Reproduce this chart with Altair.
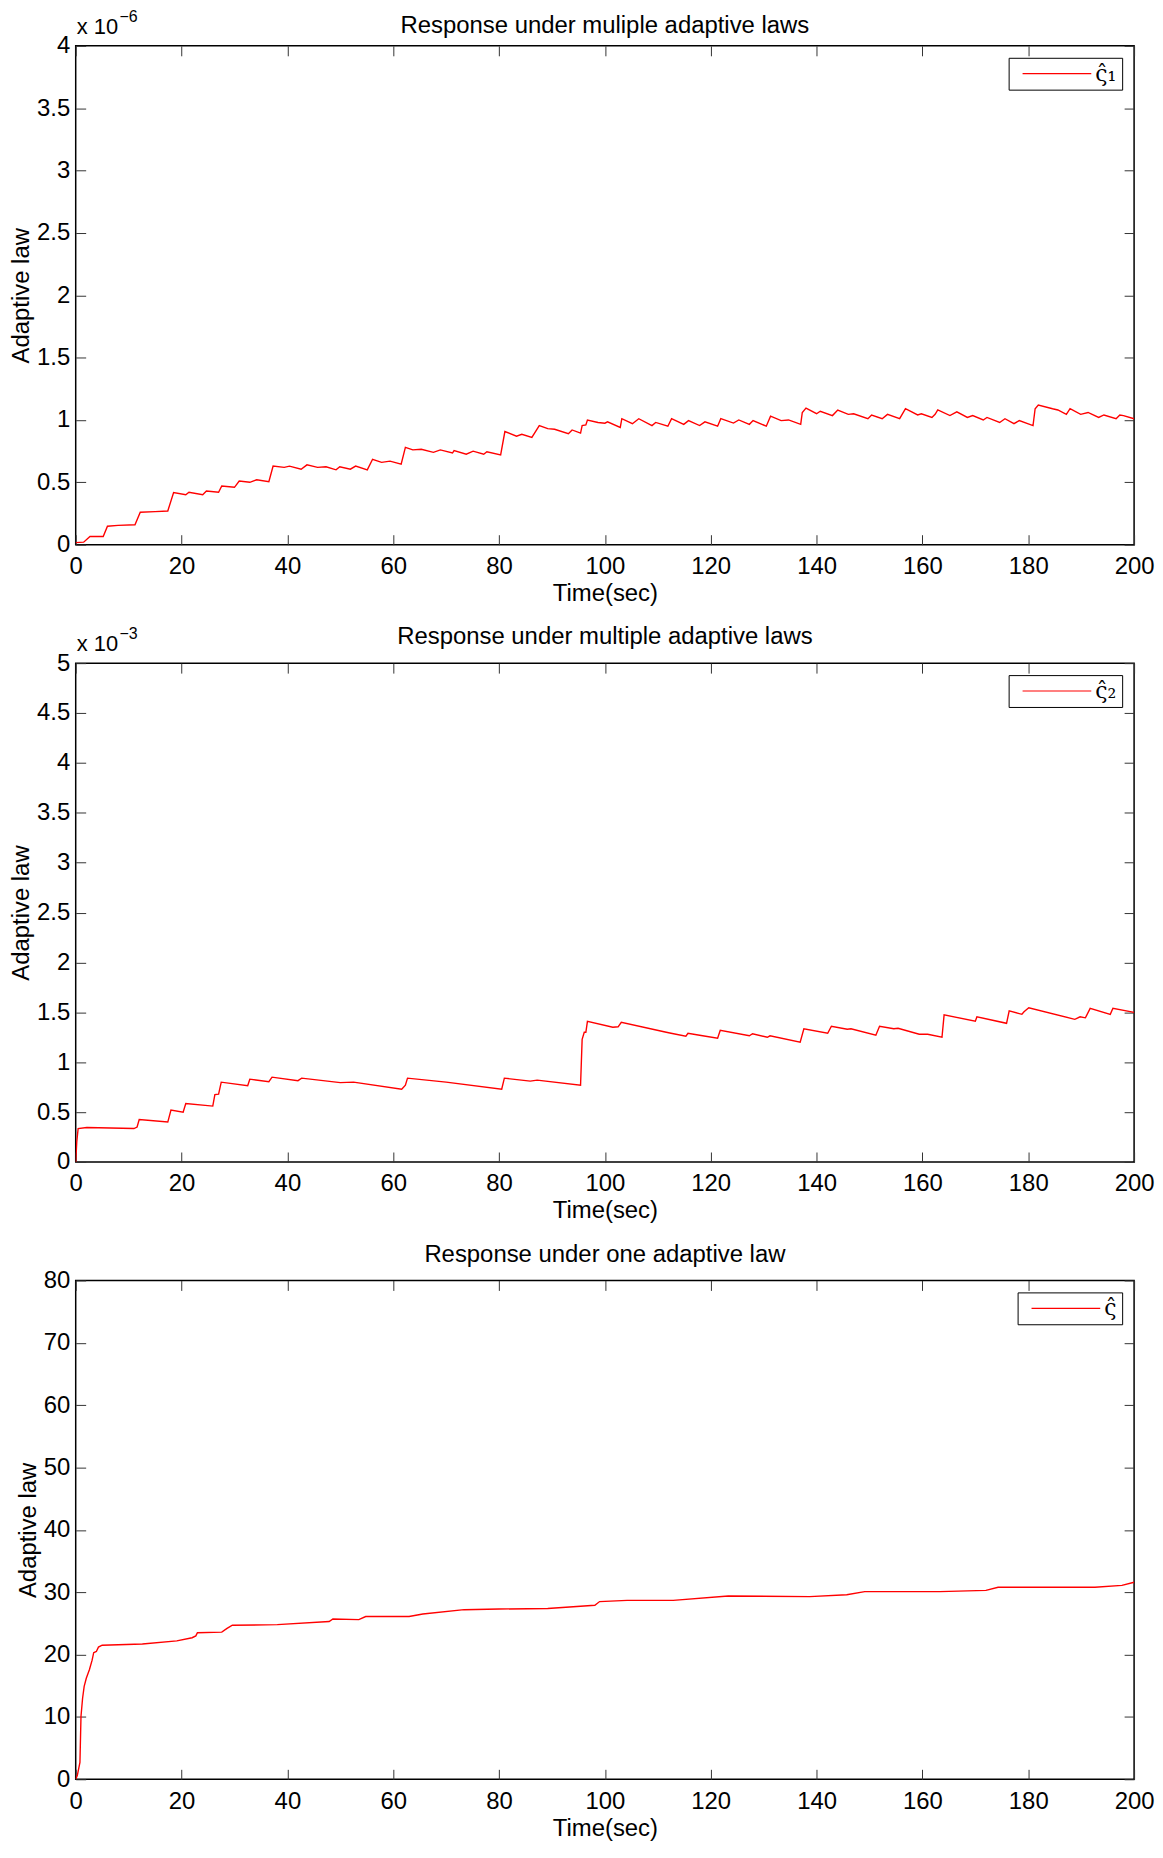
import altair as alt
import pandas as pd

# ---------------- data ----------------
T1 = [0, 1.5, 2.7, 5.2, 6.0, 8, 11.2, 12.2, 15, 17.4, 18.5, 20.8, 21.4, 24.0, 24.7, 27.0, 27.6, 30.0,
      30.9, 32.9, 34.2, 36.5, 37.3, 39.4, 40.4, 42.6, 43.7, 45.7, 47.3, 49.2, 49.9, 51.9, 52.9, 55.1,
      56.1, 57.8, 59.4, 61.5, 62.3, 63.7, 65.3, 67.6, 68.9, 71.2, 71.5, 73.8, 75.1, 77.1, 77.7, 80.3,
      81.1, 83.3, 84.3, 86.2, 87.6, 89.2, 90.5, 93.1, 93.8, 95.4, 95.7, 96.4, 96.7, 98.7, 100, 100.5,
      102.9, 103.2, 105.2, 106.4, 108.9, 109.6, 111.9, 112.6, 114.9, 115.8, 117.9, 118.9, 121.3, 121.9,
      124.3, 125.3, 127.3, 128.0, 130.5, 131.3, 133.3, 134.7, 137.0, 137.3, 138.0, 140.0, 140.7, 143.0,
      144.0, 146.0, 147.0, 149.7, 150.4, 152.4, 153.4, 155.7, 156.8, 159.1, 159.8, 161.8, 162.4, 162.9,
      165.2, 166.5, 168.5, 169.5, 171.5, 172.2, 174.6, 175.6, 177.3, 178.3, 180.9, 181.3, 181.9, 184.6,
      185.6, 187.2, 187.9, 189.9, 191.3, 193.3, 194.3, 196.6, 197.3, 198.0, 200]
Y1 = [0.016, 0.02, 0.066, 0.066, 0.148, 0.155, 0.16, 0.26, 0.265, 0.27, 0.418, 0.40, 0.42, 0.40, 0.43,
      0.42, 0.47, 0.46, 0.51, 0.50, 0.52, 0.505, 0.63, 0.62, 0.63, 0.605, 0.64, 0.62, 0.625, 0.60, 0.625,
      0.605, 0.63, 0.60, 0.685, 0.66, 0.67, 0.645, 0.78, 0.76, 0.765, 0.74, 0.76, 0.735, 0.755, 0.725,
      0.75, 0.725, 0.745, 0.72, 0.907, 0.87, 0.885, 0.86, 0.955, 0.93, 0.925, 0.89, 0.92, 0.895, 0.955,
      0.96, 1.0, 0.98, 0.974, 0.985, 0.94, 1.01, 0.97, 1.01, 0.955, 0.98, 0.95, 1.01, 0.965, 0.995, 0.955,
      0.985, 0.95, 1.01, 0.975, 1.0, 0.965, 0.995, 0.95, 1.03, 0.995, 1.0, 0.965, 1.06, 1.095, 1.05, 1.07,
      1.035, 1.08, 1.045, 1.05, 1.01, 1.04, 1.01, 1.045, 1.01, 1.09, 1.04, 1.05, 1.02, 1.045, 1.08, 1.035,
      1.065, 1.02, 1.035, 1.0, 1.02, 0.98, 1.01, 0.97, 0.995, 0.955, 1.09, 1.12, 1.09, 1.08, 1.045, 1.09,
      1.045, 1.06, 1.02, 1.04, 1.01, 1.04, 1.035, 1.01]

T2 = [0, 0.2, 0.46, 2.1, 11.0, 11.6, 12.0, 17.4, 18.0, 20.3, 20.8, 25.9, 26.3, 27.0, 27.5, 32.5, 32.9,
      36.5, 37.1, 42.0, 42.7, 50, 52.5, 61.6, 62.3, 62.7, 70, 80.5, 81.0, 85.9, 87.2, 95.4, 95.7, 96.1,
      96.4, 96.7, 101.5, 102.5, 103.1, 111.6, 112.5, 115.3, 115.7, 117.9, 121.3, 121.8, 127.3, 127.9,
      130.7, 131.2, 136.9, 137.6, 142.1, 142.8, 145.8, 146.5, 151.2, 151.9, 154.6, 155.4, 159.4, 161.0,
      163.7, 164.1, 170.0, 170.3, 175.9, 176.4, 178.8, 179.2, 180.1, 188.8, 189.8, 190.8, 191.7, 195.5,
      196.0, 200]
Y2 = [0, 0.2, 0.335, 0.345, 0.335, 0.35, 0.425, 0.40, 0.52, 0.50, 0.585, 0.56, 0.675, 0.68, 0.80, 0.765,
      0.83, 0.805, 0.85, 0.815, 0.84, 0.795, 0.80, 0.73, 0.77, 0.84, 0.80, 0.73, 0.84, 0.81, 0.82, 0.77,
      1.23, 1.30, 1.30, 1.41, 1.35, 1.355, 1.40, 1.30, 1.29, 1.26, 1.29, 1.27, 1.24, 1.32, 1.265, 1.285,
      1.25, 1.265, 1.20, 1.335, 1.29, 1.36, 1.33, 1.335, 1.27, 1.36, 1.335, 1.34, 1.28, 1.28, 1.25, 1.475,
      1.41, 1.455, 1.39, 1.515, 1.48, 1.505, 1.545, 1.43, 1.455, 1.445, 1.54, 1.48, 1.54, 1.50]

T3 = [0, 0.3, 0.8, 1.0, 1.3, 1.6, 2.0, 2.6, 3.1, 3.4, 3.9, 4.3, 5.0, 12.6, 19.1, 22.0, 22.7, 23.0, 27.6,
      28.6, 29.6, 38.1, 47.9, 48.6, 53.5, 54.8, 63, 65.6, 73.4, 80, 89.2, 98.1, 99, 104.2, 112.9, 123.3,
      138.7, 145.7, 149.1, 163.3, 172, 174.3, 192.6, 197.7, 200]
Y3 = [0, 0.6, 2.7, 10.1, 13, 14.9, 16.2, 17.6, 19.1, 20.3, 20.5, 21.2, 21.5, 21.7, 22.2, 22.7, 23.0, 23.5,
      23.6, 24.2, 24.7, 24.8, 25.3, 25.7, 25.6, 26.1, 26.1, 26.5, 27.2, 27.3, 27.4, 27.9, 28.5, 28.7, 28.7,
      29.4, 29.3, 29.6, 30.1, 30.1, 30.3, 30.8, 30.8, 31.1, 31.6]

X_TICKS = [0, 20, 40, 60, 80, 100, 120, 140, 160, 180, 200]
Y1_TICKS = [0, 0.5, 1, 1.5, 2, 2.5, 3, 3.5, 4]
Y2_TICKS = [0, 0.5, 1, 1.5, 2, 2.5, 3, 3.5, 4, 4.5, 5]
Y3_TICKS = [0, 10, 20, 30, 40, 50, 60, 70, 80]

TITLES = ["Response under muliple adaptive laws",
          "Response under multiple adaptive laws",
          "Response under one adaptive law"]
LEGEND_LABELS = ["ς̂₁", "ς̂₂", "ς̂"]
EXPONENTS = ["−6", "−3", None]
X_TITLE = "Time(sec)"
Y_TITLE = "Adaptive law"

# ---------------- styling ----------------
FONT = "Liberation Sans"
FS = 24
W, H = 1063, 501
RED = "#ff0000"
ONE_ROW = pd.DataFrame({"k": [0]})


def panel(t, y, yticks, title, label, exponent, title_offset):
    df = pd.DataFrame({"t": t, "v": y, "s": [label] * len(t), "i": list(range(len(t)))})
    xs = alt.Scale(domain=[X_TICKS[0], X_TICKS[-1]], nice=False, zero=False)
    ys = alt.Scale(domain=[yticks[0], yticks[-1]], nice=False, zero=False)
    base = alt.Chart(df)

    line = base.mark_line(strokeWidth=1.4, clip=True).encode(
        x=alt.X("t:Q", scale=xs,
                axis=alt.Axis(values=X_TICKS, title=X_TITLE, orient="bottom",
                              labelPadding=10, titlePadding=3)),
        y=alt.Y("v:Q", scale=ys,
                axis=alt.Axis(values=yticks, title=Y_TITLE, orient="left",
                              labelPadding=6, titlePadding=3)),
        color=alt.Color("s:N", scale=alt.Scale(domain=[label], range=[RED]),
                        legend=alt.Legend(title=None, orient="top-right", offset=12,
                                          strokeColor="black", fillColor="white",
                                          padding=5, symbolType="M-6.9,0L6.9,0",
                                          symbolSize=100, symbolStrokeWidth=1.2,
                                          symbolOffset=32.5, labelOffset=27.5,
                                          labelFont="DejaVu Serif", labelFontSize=22,
                                          labelColor="black")),
        order=alt.Order("i:Q"),
    )
    frame_axes = base.mark_line(opacity=0).encode(
        x=alt.X("t:Q", scale=xs,
                axis=alt.Axis(values=X_TICKS, orient="top", labels=False, title=None)),
        y=alt.Y("v:Q", scale=ys,
                axis=alt.Axis(values=yticks, orient="right", labels=False, title=None)),
        order=alt.Order("i:Q"),
    )
    layers = [line, frame_axes]
    if exponent:
        layers.append(alt.Chart(ONE_ROW).mark_text(text="x 10", align="left", baseline="alphabetic",
                                                   font=FONT, fontSize=22, color="black")
                      .encode(x=alt.value(1), y=alt.value(-12)))
        layers.append(alt.Chart(ONE_ROW).mark_text(text=exponent, align="left", baseline="alphabetic",
                                                   font=FONT, fontSize=16, color="black")
                      .encode(x=alt.value(44), y=alt.value(-24)))
    return alt.layer(*layers).resolve_scale(x="independent", y="independent").properties(
        width=W, height=H,
        title=alt.Title(title, fontSize=FS, font=FONT, fontWeight="normal",
                        color="black", offset=title_offset),
    )


chart = alt.vconcat(
    panel(T1, Y1, Y1_TICKS, TITLES[0], LEGEND_LABELS[0], EXPONENTS[0], -29),
    panel(T2, Y2, Y2_TICKS, TITLES[1], LEGEND_LABELS[1], EXPONENTS[1], -23),
    panel(T3, Y3, Y3_TICKS, TITLES[2], LEGEND_LABELS[2], EXPONENTS[2], 2),
    spacing=18,
).resolve_scale(color="independent").properties(
    padding={"left": 0, "top": -4, "right": 0, "bottom": 0}
).configure_view(
    stroke="black", strokeWidth=1.5
).configure_axis(
    offset=-10, tickSize=10, domain=False, grid=False, labelFlush=False,
    labelOverlap=False, format="~f", tickColor="#333333", tickWidth=1,
    labelFont=FONT, labelFontSize=FS, labelColor="black",
    titleFont=FONT, titleFontSize=FS, titleFontWeight="normal", titleColor="black",
)

chart.save("out.html", embed_options={"renderer": "svg", "actions": False})
